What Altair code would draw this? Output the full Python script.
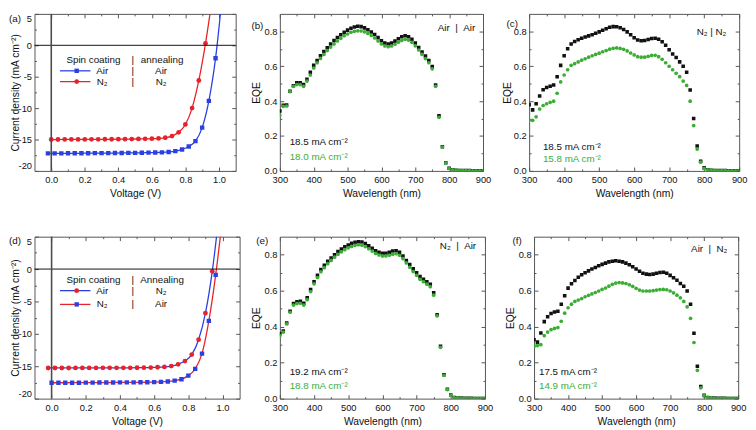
import altair as alt
import pandas as pd

FONT = "Liberation Sans"
BLUE = "#2a40e2"
RED = "#e6222a"
GREEN = "#3aad35"
BLACK = "#111111"
FRAME = "#555555"

H1 = 160
H2 = 165

# ---------------- J-V data ----------------
# (a)  Air|Air (blue squares)  and  N2|N2 (red circles)
a_blue_v = [-0.02, 0.02, 0.06, 0.10, 0.14, 0.18, 0.22, 0.26, 0.30, 0.34, 0.38, 0.42, 0.46,
            0.50, 0.54, 0.58, 0.62, 0.66, 0.70, 0.74, 0.78, 0.82, 0.86, 0.90, 0.94, 0.98, 1.02]
a_blue_j = [-17.2, -17.2, -17.2, -17.19, -17.19, -17.18, -17.18, -17.17, -17.17, -17.16, -17.15,
            -17.14, -17.13, -17.12, -17.11, -17.09, -17.07, -17.04, -16.98, -16.85, -16.58,
            -16.1, -15.25, -13.1, -8.85, -2.05, 8.0]
a_red_v = [0.00, 0.04, 0.08, 0.12, 0.16, 0.20, 0.24, 0.28, 0.32, 0.36, 0.40, 0.44, 0.48,
           0.52, 0.56, 0.60, 0.64, 0.68, 0.72, 0.76, 0.80, 0.84, 0.88, 0.92, 0.96]
a_red_j = [-15.0, -15.0, -14.99, -14.99, -14.98, -14.98, -14.97, -14.97, -14.96, -14.96, -14.95,
           -14.94, -14.93, -14.91, -14.89, -14.87, -14.82, -14.72, -14.45, -13.85, -12.6,
           -10.0, -5.6, 0.3, 7.5]

# (d)  Air|N2 (red circles on blue line)  and  N2|Air (blue squares on red line)
d_up_v = [-0.02, 0.02, 0.06, 0.10, 0.14, 0.18, 0.22, 0.26, 0.30, 0.34, 0.38, 0.42, 0.46,
          0.50, 0.54, 0.58, 0.62, 0.66, 0.70, 0.74, 0.78, 0.82, 0.86, 0.90, 0.94, 0.98]
d_up_j = [-15.27, -15.27, -15.27, -15.27, -15.26, -15.26, -15.26, -15.26, -15.25, -15.25,
          -15.25, -15.24, -15.24, -15.23, -15.22, -15.2, -15.16, -15.1, -14.97, -14.7,
          -14.2, -13.2, -10.9, -6.8, -0.35, 8.5]
d_lo_v = [0.00, 0.04, 0.08, 0.12, 0.16, 0.20, 0.24, 0.28, 0.32, 0.36, 0.40, 0.44, 0.48,
          0.52, 0.56, 0.60, 0.64, 0.68, 0.72, 0.76, 0.80, 0.84, 0.88, 0.92, 0.96, 1.00]
d_lo_j = [-17.55, -17.55, -17.55, -17.54, -17.54, -17.53, -17.53, -17.52, -17.52, -17.51,
          -17.5, -17.5, -17.49, -17.48, -17.47, -17.45, -17.42, -17.35, -17.22, -17.0,
          -16.45, -15.4, -13.05, -8.0, -0.9, 8.0]

# ---------------- EQE data ----------------
wl = list(range(300, 910, 10))
tail = [0.006, 0.004, 0.003, 0.002, 0.002, 0.002, 0.001, 0.001, 0.001, 0.001]

b_black = [0.343, 0.376, 0.378, 0.457, 0.488, 0.505, 0.505, 0.495, 0.525, 0.566,
           0.605, 0.633, 0.660, 0.684, 0.706, 0.727, 0.747, 0.765, 0.780, 0.795,
           0.807, 0.818, 0.825, 0.829, 0.827, 0.820, 0.809, 0.796, 0.782, 0.764,
           0.746, 0.733, 0.727, 0.733, 0.744, 0.758, 0.769, 0.775, 0.769, 0.755,
           0.733, 0.707, 0.682, 0.658, 0.633, 0.598, 0.493, 0.316, 0.138, 0.047,
           0.015] + tail
b_green = [0.320, 0.370, 0.372, 0.455, 0.485, 0.495, 0.495, 0.485, 0.515, 0.550,
           0.590, 0.620, 0.645, 0.668, 0.690, 0.710, 0.728, 0.745, 0.760, 0.775,
           0.785, 0.795, 0.800, 0.803, 0.802, 0.797, 0.788, 0.776, 0.762, 0.745,
           0.728, 0.716, 0.712, 0.716, 0.726, 0.738, 0.748, 0.754, 0.750, 0.737,
           0.717, 0.693, 0.668, 0.644, 0.620, 0.585, 0.485, 0.307, 0.137, 0.046,
           0.014] + tail
c_black = [0.380, 0.350, 0.385, 0.430, 0.465, 0.478, 0.485, 0.492, 0.540, 0.605,
           0.660, 0.700, 0.728, 0.742, 0.752, 0.760, 0.767, 0.774, 0.781, 0.789,
           0.797, 0.806, 0.815, 0.824, 0.827, 0.826, 0.821, 0.811, 0.797, 0.780,
           0.763, 0.751, 0.746, 0.747, 0.753, 0.759, 0.760, 0.755, 0.740, 0.720,
           0.695, 0.670, 0.650, 0.625, 0.600, 0.565, 0.464, 0.300, 0.143, 0.055,
           0.018] + tail
c_green = [0.290, 0.290, 0.310, 0.355, 0.375, 0.385, 0.393, 0.400, 0.445, 0.510,
           0.550, 0.580, 0.605, 0.615, 0.625, 0.635, 0.643, 0.652, 0.660, 0.668,
           0.675, 0.683, 0.690, 0.698, 0.703, 0.705, 0.702, 0.697, 0.688, 0.676,
           0.665, 0.655, 0.652, 0.652, 0.657, 0.662, 0.663, 0.655, 0.640, 0.620,
           0.600, 0.580, 0.560, 0.540, 0.515, 0.490, 0.400, 0.260, 0.125, 0.050,
           0.015] + tail
e_black = [0.360, 0.376, 0.420, 0.485, 0.529, 0.538, 0.541, 0.530, 0.560, 0.606,
           0.649, 0.685, 0.718, 0.741, 0.763, 0.782, 0.800, 0.817, 0.831, 0.844,
           0.854, 0.863, 0.869, 0.872, 0.871, 0.862, 0.849, 0.836, 0.822, 0.813,
           0.808, 0.808, 0.813, 0.820, 0.822, 0.813, 0.793, 0.768, 0.745, 0.721,
           0.700, 0.678, 0.664, 0.649, 0.635, 0.588, 0.466, 0.291, 0.133, 0.052,
           0.020] + tail
e_green = [0.350, 0.370, 0.415, 0.480, 0.520, 0.528, 0.530, 0.520, 0.550, 0.595,
           0.638, 0.673, 0.705, 0.728, 0.750, 0.768, 0.786, 0.802, 0.816, 0.828,
           0.838, 0.846, 0.852, 0.855, 0.853, 0.845, 0.833, 0.820, 0.807, 0.798,
           0.793, 0.793, 0.797, 0.803, 0.805, 0.797, 0.778, 0.754, 0.730, 0.706,
           0.685, 0.663, 0.650, 0.636, 0.622, 0.575, 0.460, 0.285, 0.130, 0.050,
           0.018] + tail
f_black = [0.327, 0.314, 0.365, 0.428, 0.455, 0.473, 0.482, 0.486, 0.525, 0.572,
           0.614, 0.639, 0.657, 0.674, 0.688, 0.699, 0.710, 0.720, 0.729, 0.739,
           0.746, 0.753, 0.760, 0.764, 0.766, 0.764, 0.760, 0.753, 0.744, 0.733,
           0.720, 0.708, 0.697, 0.692, 0.690, 0.692, 0.697, 0.701, 0.702, 0.697,
           0.685, 0.672, 0.658, 0.640, 0.625, 0.598, 0.525, 0.363, 0.180, 0.067,
           0.018] + tail
f_green = [0.290, 0.295, 0.300, 0.350, 0.370, 0.383, 0.390, 0.395, 0.430, 0.475,
           0.505, 0.525, 0.540, 0.548, 0.556, 0.566, 0.574, 0.582, 0.590, 0.598,
           0.607, 0.615, 0.625, 0.635, 0.642, 0.645, 0.643, 0.640, 0.633, 0.624,
           0.613, 0.603, 0.598, 0.598, 0.598, 0.600, 0.603, 0.606, 0.607, 0.605,
           0.598, 0.588, 0.575, 0.560, 0.540, 0.510, 0.446, 0.312, 0.157, 0.060,
           0.018] + tail

JV_X_MAJ = [0.0, 0.2, 0.4, 0.6, 0.8, 1.0]
JV_X_MIN = [0.1, 0.3, 0.5, 0.7, 0.9]
JV_Y_MAJ = [-20, -15, -10, -5, 0, 5]
JV_Y_MIN = [-17.5, -12.5, -7.5, -2.5, 2.5]
EQ_X_MAJ = [300, 400, 500, 600, 700, 800, 900]
EQ_X_MIN = [350, 450, 550, 650, 750, 850]
EQ_Y_MAJ = [0.0, 0.2, 0.4, 0.6, 0.8]
EQ_Y_MIN = [0.1, 0.3, 0.5, 0.7]


def txt(s, x, y, color=BLACK, align="left", size=10, opacity=1.0):
    return alt.Chart(pd.DataFrame({"t": [s]})).mark_text(
        align=align, baseline="middle", font=FONT, fontSize=size, color=color, opacity=opacity
    ).encode(text="t:N", x=alt.value(x), y=alt.value(y))


def tick_axis(orient, vals, size):
    return alt.Axis(orient=orient, values=vals, tickSize=size, offset=-size, labels=False,
                    domain=False, title=None, ticks=True, tickColor=FRAME, grid=False,
                    minExtent=0, maxExtent=0)


def tick_layers(df, xf, yf, xsc, ysc, xmaj, xmin, ymaj, ymin):
    out = []
    for orient in ("bottom", "top"):
        for vals, size in ((xmaj, 4), (xmin, 2)):
            out.append(alt.Chart(df).mark_point(opacity=0, clip=True).encode(
                x=alt.X(f"{xf}:Q", scale=xsc, axis=tick_axis(orient, vals, size)),
                y=alt.Y(f"{yf}:Q", scale=ysc, axis=None)))
    for orient in ("left", "right"):
        for vals, size in ((ymaj, 4), (ymin, 2)):
            out.append(alt.Chart(df).mark_point(opacity=0, clip=True).encode(
                x=alt.X(f"{xf}:Q", scale=xsc, axis=None),
                y=alt.Y(f"{yf}:Q", scale=ysc, axis=tick_axis(orient, vals, size))))
    return out


def jv_panel(curves, letter, lpos, header2, rows, w, h):
    xsc = alt.Scale(domain=[-0.1, 1.1], nice=False, zero=False)
    ysc = alt.Scale(domain=[-20, 5], nice=False, zero=False)
    layers = []
    first = True
    for v, j, lcol, mcol, shape, size in curves:
        df = pd.DataFrame({"v": v, "j": j})
        if first:
            xax = alt.Axis(orient="bottom", title="Voltage (V)", values=JV_X_MAJ, format=".1f",
                           ticks=False, domain=False, labelPadding=4, titlePadding=5, labelFlush=False,
                           minExtent=0)
            yax = alt.Axis(orient="left", title="Current density (mA cm⁻²)", values=JV_Y_MAJ,
                           format="d", labelExpr="replace(datum.label, '\u2212', '-')",
                           ticks=False, domain=False, labelPadding=3, titlePadding=-2, minExtent=0,
                           labelFlush=True)
            first = False
            df0 = df
        else:
            xax = None
            yax = None
        layers.append(alt.Chart(df).mark_line(color=lcol, strokeWidth=1.3, interpolate="monotone",
                                              clip=True).encode(
            x=alt.X("v:Q", scale=xsc, axis=xax), y=alt.Y("j:Q", scale=ysc, axis=yax)))
    for v, j, lcol, mcol, shape, size in curves:
        df = pd.DataFrame({"v": v, "j": j})
        layers.append(alt.Chart(df).mark_point(shape=shape, filled=True, size=size, color=mcol,
                                               opacity=1, clip=True).encode(
            x=alt.X("v:Q", scale=xsc, axis=None), y=alt.Y("j:Q", scale=ysc, axis=None)))
    zdf = pd.DataFrame({"z": [0.0]})
    layers.append(alt.Chart(zdf).mark_rule(color=BLACK, strokeWidth=1).encode(
        y=alt.Y("z:Q", scale=ysc, axis=None)))
    layers.append(alt.Chart(zdf).mark_rule(color="#4a4a4a", strokeWidth=1.6).encode(
        x=alt.X("z:Q", scale=xsc, axis=None)))
    layers += tick_layers(df0, "v", "j", xsc, ysc, JV_X_MAJ, JV_X_MIN, JV_Y_MAJ, JV_Y_MIN)
    # legend
    hy, r1, r2 = lpos
    layers.append(txt("Spin coating", 60, hy, align="center"))
    layers.append(txt("|", 100, hy, align="center"))
    layers.append(txt(header2, 130, hy, align="center"))
    for (lab1, lab2, lcol, mcol, shape, size), yy in zip(rows, (r1, r2)):
        layers.append(alt.Chart(pd.DataFrame({"t": [0]})).mark_rule(color=lcol, strokeWidth=1.3).encode(
            x=alt.value(26), x2=alt.value(57), y=alt.value(yy)))
        layers.append(alt.Chart(pd.DataFrame({"t": [0]})).mark_point(
            shape=shape, filled=True, size=size, color=mcol, opacity=1).encode(
            x=alt.value(43), y=alt.value(yy)))
        layers.append(txt(lab1, 69, yy, align="center"))
        layers.append(txt("|", 100, yy, align="center"))
        layers.append(txt(lab2, 129, yy, align="center"))
    layers.append(txt(letter[0], letter[1], letter[2]))
    return alt.layer(*layers).properties(width=w, height=h).resolve_axis(
        x="independent", y="independent")


def eqe_panel(black, green, letter, cond, cond_right, jsc, jsc_x, tpad, w, h):
    xsc = alt.Scale(domain=[300, 900], nice=False, zero=False)
    ysc = alt.Scale(domain=[0, 0.9], nice=False, zero=False)
    dfb = pd.DataFrame({"wl": wl, "eqe": black})
    dfg = pd.DataFrame({"wl": wl, "eqe": green})
    layers = [
        alt.Chart(dfb).mark_point(shape="square", filled=True, size=13, color=BLACK, opacity=1,
                                  clip=True).encode(
            x=alt.X("wl:Q", scale=xsc, axis=alt.Axis(
                orient="bottom", title="Wavelength (nm)", values=EQ_X_MAJ, format="d", ticks=False,
                domain=False, labelPadding=4, titlePadding=5, labelFlush=False, minExtent=0)),
            y=alt.Y("eqe:Q", scale=ysc, axis=alt.Axis(
                orient="left", title="EQE", values=EQ_Y_MAJ, format=".1f", ticks=False,
                domain=False, labelPadding=3, titlePadding=tpad, minExtent=0))),
        alt.Chart(dfg).mark_point(shape="circle", filled=True, size=14, color=GREEN, opacity=1,
                                  clip=True).encode(
            x=alt.X("wl:Q", scale=xsc, axis=None), y=alt.Y("eqe:Q", scale=ysc, axis=None)),
    ]
    layers += tick_layers(dfb, "wl", "eqe", xsc, ysc, EQ_X_MAJ, EQ_X_MIN, EQ_Y_MAJ, EQ_Y_MIN)
    layers.append(txt(cond[0], w - cond_right, cond[1], align="right"))
    layers.append(txt(jsc[0], jsc_x, h - jsc[2], color=BLACK))
    layers.append(txt(jsc[1], jsc_x, h - jsc[3], color=GREEN))
    layers.append(txt(letter[0], letter[1], letter[2]))
    return alt.layer(*layers).properties(width=w, height=h).resolve_axis(
        x="independent", y="independent")


NB = "\u00a0"
pa = jv_panel(
    [(a_blue_v, a_blue_j, BLUE, BLUE, "square", 20), (a_red_v, a_red_j, RED, RED, "circle", 24)],
    ("(a)", -26, 5), (47, 58, 69), "annealing",
    [("Air", "Air", BLUE, BLUE, "square", 20), ("N₂", "N₂", RED, RED, "circle", 24)], 205, H1)
pb = eqe_panel(b_black, b_green, ("(b)", -29, 12), ("Air" + NB * 2 + "|" + NB * 2 + "Air", 14), 8,
               ("18.5 mA cm⁻²", "18.0 mA cm⁻²", 29, 14), 10, 3, 207, H1)
pc = eqe_panel(c_black, c_green, ("(c)", -23, 10), ("N₂" + NB + "|" + NB + "N₂", 19), 13,
               ("18.5 mA cm⁻²", "15.8 mA cm⁻²", 24, 12), 14, 1, 214, H1)
pd_ = jv_panel(
    [(d_up_v, d_up_j, BLUE, RED, "circle", 24), (d_lo_v, d_lo_j, RED, BLUE, "square", 20)],
    ("(d)", -26, 4), (44, 55, 69), "Annealing",
    [("Air", "N₂", BLUE, RED, "circle", 24), ("N₂", "Air", RED, BLUE, "square", 20)], 209, H2)
pe = eqe_panel(e_black, e_green, ("(e)", -24, 4), ("N₂" + NB * 2 + "|" + NB * 2 + "Air", 10), 9,
               ("19.2 mA cm⁻²", "18.8 mA cm⁻²", 27, 13), 10, 3, 209, H2)
pf = eqe_panel(f_black, f_green, ("(f)", -22, 4), ("Air" + NB * 2 + "|" + NB * 2 + "N₂", 13), 11,
               ("17.5 mA cm⁻²", "14.9 mA cm⁻²", 27, 12.5), 5, 3, 208, H2)

row1 = alt.hconcat(alt.hconcat(pa, pb, spacing=14), pc, spacing=10)
row2 = alt.hconcat(alt.hconcat(pd_, pe, spacing=10), pf, spacing=11)

chart = alt.vconcat(row1, row2, spacing=35, padding=0, background="white").configure_view(
    stroke=FRAME, strokeWidth=1
).configure_axis(
    labelFont=FONT, titleFont=FONT, labelFontSize=9.5, titleFontSize=10.5,
    labelColor=BLACK, titleColor=BLACK, titleFontWeight="normal", grid=False
)

chart.save("out.html", embed_options={"renderer": "svg", "actions": False})
